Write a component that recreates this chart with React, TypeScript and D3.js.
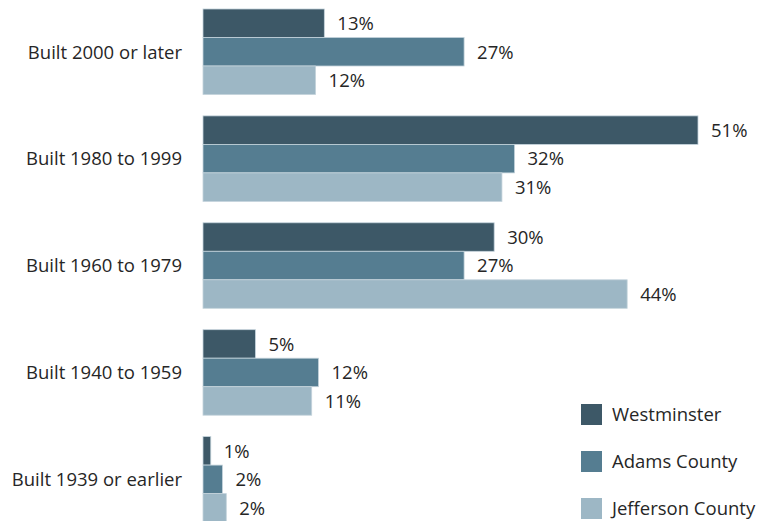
import React, { useRef, useEffect } from 'react'
import * as d3 from 'd3'

const categories = [
    'Built 2000 or later',
    'Built 1980 to 1999',
    'Built 1960 to 1979',
    'Built 1940 to 1959',
    'Built 1939 or earlier',
]
const seriesNames = ['Westminster', 'Adams County', 'Jefferson County']
const westminster = [12.5, 51.0, 30.0, 5.4, 0.8]
const adamsCounty = [26.9, 32.1, 26.9, 11.9, 2.0]
const jeffersonCounty = [11.6, 30.8, 43.7, 11.2, 2.4]
const colors = ['#3d5867', '#557d91', '#9db7c5']

const App = () => {
    const svgRef = useRef<SVGSVGElement>(null)

    useEffect(() => {
        const svg = d3.select(svgRef.current)
        svg.selectAll('*').remove()
        const width = 764
        const height = 521
        const left = 203
        const font = "'Open Sans', sans-serif"
        const fontSize = '18.5px'

        const series = [westminster, adamsCounty, jeffersonCounty]

        const xScale = d3.scaleLinear().domain([0, 51]).range([left, 698])

        const yScale = d3
            .scaleBand()
            .domain(categories)
            .range([-1.7, 532.8])
            .paddingInner(0.2)
            .paddingOuter(0.1)

        const inner = d3
            .scaleBand()
            .domain(seriesNames)
            .range([0, yScale.bandwidth()])

        //category labels
        svg.append('g')
            .selectAll('text')
            .data(categories)
            .enter()
            .append('text')
            .attr('x', left - 21)
            .attr('y', (d) => yScale(d)! + yScale.bandwidth() / 2)
            .attr('dy', '0.37em')
            .attr('text-anchor', 'end')
            .style('font-family', font)
            .style('font-size', fontSize)
            .style('fill', '#262626')
            .text((d) => d)

        //bars + value labels for each series
        series.forEach((vals, si) => {
            const g = svg.append('g')
            const rows = vals.map((v, i) => ({ v, cat: categories[i] }))
            g.selectAll('rect')
                .data(rows)
                .enter()
                .append('rect')
                .attr('x', left)
                .attr('y', (d) => yScale(d.cat)! + inner(seriesNames[si])!)
                .attr('width', (d) => xScale(d.v) - left)
                .attr('height', inner.bandwidth())
                .attr('fill', colors[si])
                .attr('stroke', '#c4d3db')
                .attr('stroke-width', 0.8)

            g.selectAll('text')
                .data(rows)
                .enter()
                .append('text')
                .attr('x', (d) => xScale(d.v) + 13)
                .attr('y', (d) => yScale(d.cat)! + inner(seriesNames[si])! + inner.bandwidth() / 2)
                .attr('dy', '0.37em')
                .style('font-family', font)
                .style('font-size', fontSize)
                .style('fill', '#262626')
                .text((d) => Math.round(d.v) + '%')
        })

        //legend
        const legend = svg.append('g')
        seriesNames.forEach((name, i) => {
            const y = 404 + i * 47
            legend.append('rect')
                .attr('x', 581)
                .attr('y', y)
                .attr('width', 21)
                .attr('height', 21)
                .attr('fill', colors[i])
            legend.append('text')
                .attr('x', 612)
                .attr('y', y + 10.5)
                .attr('dy', '0.37em')
                .style('font-family', font)
                .style('font-size', fontSize)
                .style('fill', '#262626')
                .text(name)
        })

        svg.attr('width', width).attr('height', height)
    }, [])

    return (
        <svg
            ref={svgRef}
            style={{ position: 'absolute', left: 0, top: 0, width: 764, height: 521, background: '#fff' }}
        />
    )
}

export default App
